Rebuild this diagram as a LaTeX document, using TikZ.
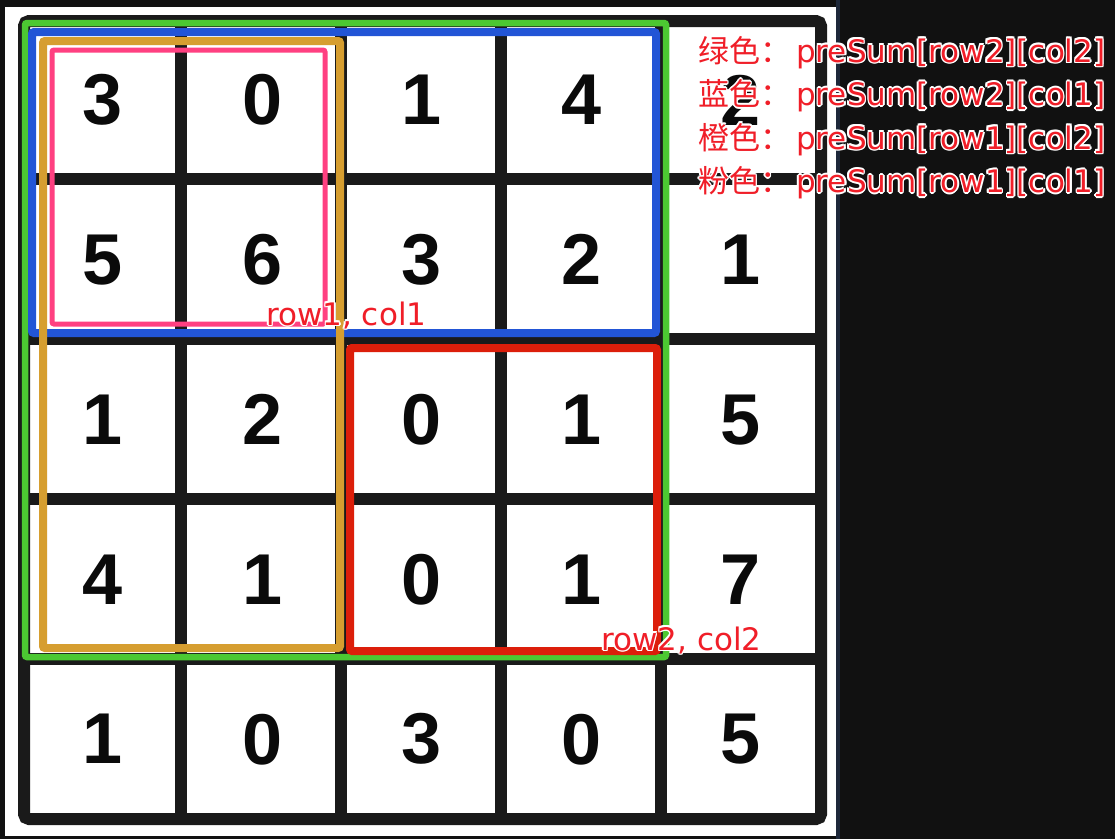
\documentclass[tikz,border=0pt]{standalone}
\usepackage{fontspec}
\setmainfont{Liberation Sans}
\newfontfamily\cjk{Noto Sans CJK SC}
\newfontfamily\lab{DejaVu Sans}
\definecolor{bgdark}{RGB}{17,17,17}
\definecolor{edgeblue}{RGB}{30,40,58}
\definecolor{gridblack}{RGB}{26,26,26}
\definecolor{numblack}{RGB}{10,10,10}
\definecolor{boxgreen}{RGB}{76,200,50}
\definecolor{boxblue}{RGB}{34,85,214}
\definecolor{boxorange}{RGB}{214,158,48}
\definecolor{boxpink}{RGB}{255,64,129}
\definecolor{boxred}{RGB}{220,30,10}
\definecolor{labred}{RGB}{240,30,40}
\newcommand{\hcopy}[3]{\rlap{\hspace*{#1}\raisebox{#2}{\color{white}#3}}}
\newcommand{\haloed}[1]{\hcopy{-1.6pt}{0pt}{#1}\hcopy{1.6pt}{0pt}{#1}\hcopy{0pt}{1.6pt}{#1}\hcopy{0pt}{-1.6pt}{#1}\hcopy{-1.1pt}{-1.1pt}{#1}\hcopy{1.1pt}{1.1pt}{#1}\hcopy{-1.1pt}{1.1pt}{#1}\hcopy{1.1pt}{-1.1pt}{#1}#1}
\begin{document}
\begin{tikzpicture}[x=1pt,y=-1pt,
  num/.style={font=\fontsize{72}{72}\selectfont\bfseries, text=numblack, inner sep=0pt},
  lbl/.style={font=\lab\fontsize{31}{31}\selectfont, text=labred, inner sep=0pt, anchor=base west},
  gridline/.style={line width=12pt, draw=gridblack},
  colbox/.style={line width=8pt, rounded corners=2pt}]
\useasboundingbox (0,0) rectangle (1115,839);
\fill[bgdark] (0,0) rectangle (1115,839);
\fill[white] (5,7) rectangle (836,836);
\draw[line width=4pt, edgeblue] (838,0) -- (838,839);
% grid
\draw[gridline, rounded corners=5pt] (24,21) rectangle (821,819);
\foreach \x in {181,341,501,661} \draw[gridline] (\x,21) -- (\x,819);
\foreach \y in {179,339,499,659} \draw[gridline] (24,\y) -- (821,\y);
% numbers
\foreach \v [count=\c] in {3,0,1,4,2} \node[num] (n1\c) at ({102.5+159.6*(\c-1)},100) {\v};
\foreach \v [count=\c] in {5,6,3,2,1} \node[num] (n2\c) at ({102.5+159.6*(\c-1)},259.8) {\v};
\foreach \v [count=\c] in {1,2,0,1,5} \node[num] (n3\c) at ({102.5+159.6*(\c-1)},419.6) {\v};
\foreach \v [count=\c] in {4,1,0,1,7} \node[num] (n4\c) at ({102.5+159.6*(\c-1)},579.4) {\v};
\foreach \v [count=\c] in {1,0,3,0,5} \node[num] (n5\c) at ({102.5+159.6*(\c-1)},739.2) {\v};
% coloured boxes
\draw[colbox, boxgreen, line width=6.5pt] (25,23) rectangle (666,657);
\draw[colbox, boxblue] (32,32) rectangle (656,333);
\draw[colbox, boxorange] (43,41) rectangle (340,648);
\draw[colbox, boxpink, line width=5pt] (52,50) rectangle (325,324);
\draw[colbox, boxred] (350,348) rectangle (657,651);
% labels
\node[lbl] (p1) at (266,325) {\haloed{row1, col1}};
\node[lbl] (p2) at (601,650) {\haloed{row2, col2}};
\node[lbl] (t1) at (698,62) {\haloed{{\cjk 绿色：}\hspace{5pt}preSum[row2][col2]}};
\node[lbl] (t2) at (698,105.5) {\haloed{{\cjk 蓝色：}\hspace{5pt}preSum[row2][col1]}};
\node[lbl] (t3) at (698,149) {\haloed{{\cjk 橙色：}\hspace{5pt}preSum[row1][col2]}};
\node[lbl] (t4) at (698,192.5) {\haloed{{\cjk 粉色：}\hspace{5pt}preSum[row1][col1]}};
\end{tikzpicture}
\end{document}
